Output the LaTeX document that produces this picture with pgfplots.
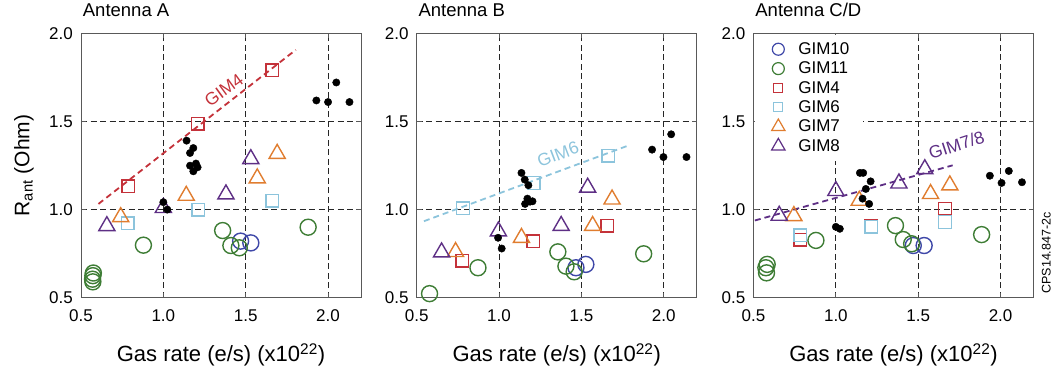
\documentclass[border=0pt]{standalone}
\usepackage{pgfplots}
\pgfplotsset{compat=1.18}
\usepackage{fontspec}
\setmainfont{Liberation Sans}
\definecolor{cGa}{HTML}{3F48A8}
\definecolor{cGb}{HTML}{3E7D35}
\definecolor{cGc}{HTML}{C4323A}
\definecolor{cGd}{HTML}{8CC4DC}
\definecolor{cGe}{HTML}{E07D2F}
\definecolor{cGf}{HTML}{5E2F85}
\pgfplotsset{
  myaxis/.style={
    scale only axis, width=280pt, height=264.4pt,
    xmin=0.5, xmax=2.2, ymin=0.5, ymax=2.0,
    xtick={0.5,1.0,1.5,2.0}, xticklabels={0.5,1.0,1.5,2.0},
    ytick={0.5,1.0,1.5,2.0}, yticklabels={0.5,1.0,1.5,2.0},
    grid=major,
    major grid style={black!85, line width=0.8pt, dash pattern=on 6pt off 3.5pt},
    axis line style={black!65, line width=1pt},
    tick style={black!65, line width=0.8pt}, major tick length=5pt, tick align=inside,
    ticklabel style={font=\fontsize{17}{20}\selectfont, inner sep=0pt},
    xticklabel style={anchor=base, yshift=-24pt},
    yticklabel style={anchor=east, xshift=-8pt},
    xlabel={Gas rate (e/s) (x10\textsuperscript{22})},
    xlabel style={font=\fontsize{22}{26}\selectfont, at={(axis description cs:0.5,-0.242)}, anchor=base, inner sep=0pt},
    title style={font=\fontsize{18.5}{22}\selectfont, at={(axis description cs:0.006,1.040)}, anchor=base west, inner sep=0pt},
    clip=false,
    legend image code/.code={\draw[##1] plot coordinates {(11.5pt,0pt)}; \path[draw=none, fill=none] (0pt,0pt) -- (20pt,0pt);},
  },
  gA/.style={only marks, mark=o, mark size=8pt, color=cGa, mark options={line width=1.4pt}},
  gB/.style={only marks, mark=o, mark size=8pt, color=cGb, mark options={line width=1.4pt}},
  gC/.style={only marks, mark=square, mark size=6.3pt, color=cGc, mark options={line width=1.4pt}},
  gD/.style={only marks, mark=square, mark size=6.3pt, color=cGd, mark options={line width=1.4pt}},
  gE/.style={only marks, mark=triangle, mark size=9.3pt, color=cGe, mark options={line width=1.4pt}},
  gF/.style={only marks, mark=triangle, mark size=9.3pt, color=cGf, mark options={line width=1.4pt}},
  blk/.style={only marks, mark=*, mark size=3.7pt, color=black},
  fitl/.style={no marks, line width=1.8pt, dash pattern=on 6pt off 4pt},
}
\begin{document}
\begin{tikzpicture}
\path[use as bounding box] (0,0) rectangle (1056pt,372pt);
% ---------------- Antenna A
\begin{axis}[myaxis, at={(81pt,74.3pt)}, anchor=south west, title={Antenna A},
  ylabel={R\textsubscript{ant} (Ohm)},
  ylabel style={font=\fontsize{21}{25}\selectfont, at={(axis description cs:-0.184,0.5)}, anchor=base, inner sep=0pt}]
\addplot[fitl, cGc] coordinates {(0.606,1.032) (1.804,1.906)};
\addplot[gA] coordinates {(1.469,0.821) (1.531,0.811)};
\addplot[gB] coordinates {(0.575,0.640) (0.572,0.625) (0.570,0.605) (0.572,0.590) (0.879,0.798) (1.360,0.881) (1.410,0.796) (1.461,0.783) (1.879,0.900)};
\addplot[gC] coordinates {(0.788,1.132) (1.208,1.487) (1.661,1.789)};
\addplot[gD] coordinates {(0.784,0.921) (1.212,1.0) (1.661,1.051)};
\addplot[gE] coordinates {(0.741,0.958) (1.139,1.079) (1.570,1.178) (1.691,1.317)};
\addplot[gF] coordinates {(0.657,0.907) (1.0,1.01) (1.380,1.087) (1.531,1.287)};
\addplot[blk] coordinates {(1.141,1.391) (1.182,1.349) (1.162,1.321) (1.162,1.249) (1.198,1.261) (1.208,1.240) (1.182,1.217) (1.0,1.042) (1.024,1.0) (1.929,1.619) (2.0,1.610) (2.05,1.721) (2.13,1.61)};
\node[cGc, rotate=36, font=\fontsize{17.5}{20}\selectfont] at (axis cs:1.367,1.678) {GIM4};
\end{axis}
% ---------------- Antenna B
\begin{axis}[myaxis, at={(416.7pt,74.3pt)}, anchor=south west, title={Antenna B}]
\addplot[fitl, cGd] coordinates {(0.544,0.934) (1.787,1.364)};
\addplot[gA] coordinates {(1.467,0.670) (1.527,0.689)};
\addplot[gB] coordinates {(0.578,0.523) (0.872,0.670) (1.357,0.760) (1.406,0.679) (1.456,0.647) (1.878,0.749)};
\addplot[gC] coordinates {(0.777,0.709) (1.207,0.821) (1.657,0.909)};
\addplot[gD] coordinates {(0.781,1.008) (1.211,1.151) (1.663,1.306)};
\addplot[gE] coordinates {(0.736,0.760) (1.136,0.840) (1.568,0.908) (1.686,1.058)};
\addplot[gF] coordinates {(0.651,0.758) (0.996,0.877) (1.377,0.908) (1.538,1.125)};
\addplot[blk] coordinates {(0.994,0.840) (1.016,0.779) (1.136,1.208) (1.156,1.170) (1.178,1.138) (1.172,1.062) (1.158,1.032) (1.203,1.047) (1.188,1.045) (1.929,1.340) (1.998,1.298) (2.045,1.427) (2.138,1.298)};
\node[cGd, rotate=21, font=\fontsize{17.5}{20}\selectfont] at (axis cs:1.358,1.313) {GIM6};
\end{axis}
% ---------------- Antenna C/D
\begin{axis}[myaxis, at={(753.5pt,74.3pt)}, anchor=south west, title={Antenna C/D},
  legend style={at={(axis description cs:0.004,0.996)}, anchor=north west, draw=none, fill=white,
    font=\fontsize{17}{20}\selectfont, inner xsep=12pt, inner ysep=6pt, row sep=2pt,
    nodes={inner sep=2pt}, /tikz/every odd column/.append style={column sep=9.5pt}},
  legend cell align=left]
\addplot[fitl, cGf, forget plot] coordinates {(0.508,0.938) (1.709,1.251)};
\addplot[gA, forget plot] coordinates {(1.470,0.796) (1.536,0.796)};
\addplot[gB, forget plot] coordinates {(0.583,0.689) (0.575,0.670) (0.579,0.641) (0.879,0.825) (1.362,0.909) (1.409,0.830) (1.460,0.806) (1.885,0.858)};
\addplot[gC, forget plot] coordinates {(0.785,0.830) (1.215,0.906) (1.662,1.004)};
\addplot[gD, forget plot] coordinates {(0.785,0.853) (1.215,0.902) (1.662,0.930)};
\addplot[gE, forget plot] coordinates {(0.745,0.964) (1.142,1.051) (1.575,1.089) (1.692,1.138)};
\addplot[gF, forget plot] coordinates {(0.656,0.966) (1.0,1.106) (1.383,1.149) (1.540,1.230)};
\addplot[blk, forget plot] coordinates {(1.0,0.902) (1.024,0.891) (1.146,1.208) (1.166,1.208) (1.211,1.160) (1.182,1.117) (1.162,1.062) (1.202,1.032) (1.935,1.192) (2.006,1.151) (2.05,1.219) (2.13,1.155)};
\node[cGf, rotate=18, font=\fontsize{17.5}{20}\selectfont] at (axis cs:1.732,1.366) {GIM7/8};
\addlegendimage{only marks, mark=o, mark size=6pt, color=cGa, mark options={line width=1.2pt}}
\addlegendimage{only marks, mark=o, mark size=6pt, color=cGb, mark options={line width=1.2pt}}
\addlegendimage{only marks, mark=square, mark size=4.5pt, color=cGc, mark options={line width=1.2pt}}
\addlegendimage{only marks, mark=square, mark size=4.5pt, color=cGd, mark options={line width=1.2pt}}
\addlegendimage{only marks, mark=triangle, mark size=7.7pt, color=cGe, mark options={line width=1.2pt}}
\addlegendimage{only marks, mark=triangle, mark size=7.7pt, color=cGf, mark options={line width=1.2pt}}
\legend{GIM10,GIM11,GIM4,GIM6,GIM7,GIM8}
\end{axis}
\node[rotate=90, anchor=base, font=\fontsize{12.5}{15}\selectfont, inner sep=0pt] at (1050.5pt,119pt) {CPS14.847-2c};
\end{tikzpicture}
\end{document}
